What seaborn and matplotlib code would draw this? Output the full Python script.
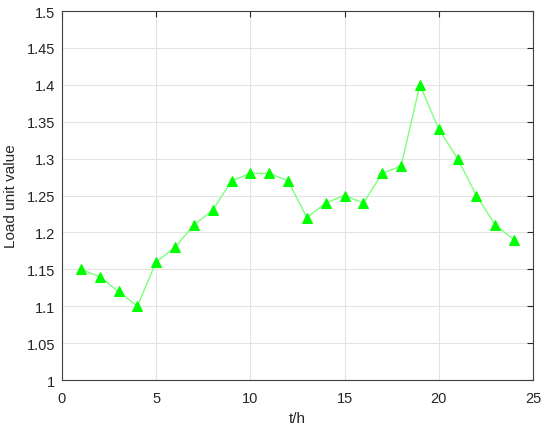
import numpy as np
import pandas as pd
import seaborn as sns
from matplotlib import pyplot as plt

# hourly load values
hours = list(range(1, 25))
load = [1.15, 1.14, 1.12, 1.10, 1.16, 1.18, 1.21, 1.23, 1.27, 1.28, 1.28, 1.27,
        1.22, 1.24, 1.25, 1.24, 1.28, 1.29, 1.40, 1.34, 1.30, 1.25, 1.21, 1.19]

x_ticks = [0, 5, 10, 15, 20, 25]
y_ticks = [1, 1.05, 1.1, 1.15, 1.2, 1.25, 1.3, 1.35, 1.4, 1.45, 1.5]
y_labels = ['1', '1.05', '1.1', '1.15', '1.2', '1.25', '1.3', '1.35', '1.4', '1.45', '1.5']

df = pd.DataFrame({'t': hours, 'load': load})

sns.set_style('white')
plt.rcParams['font.family'] = ['Liberation Sans', 'DejaVu Sans']

fig = plt.figure(figsize=(5.5, 4.31), dpi=100)
ax = fig.add_axes([0.1127, 0.116, 0.8563, 0.856])

sns.lineplot(data=df, x='t', y='load', ax=ax, color='#7dff7d', linewidth=1,
             marker='^', markersize=6.5, markerfacecolor='#00ff00',
             markeredgecolor='#00ff00')

ax.set_xlim(0, 25)
ax.set_ylim(1, 1.5)
ax.set_xticks(x_ticks)
ax.set_yticks(y_ticks)
ax.set_yticklabels(y_labels)
ax.grid(True, color='#e3e3e3', linewidth=0.8)
ax.set_axisbelow(True)
ax.tick_params(direction='in', top=True, right=True, length=4,
               labelsize=10.5, colors='#262626', width=0.8)
ax.tick_params(axis='x', pad=8)
ax.tick_params(axis='y', pad=5)
for s in ax.spines.values():
    s.set_color('#404040')
    s.set_linewidth(0.8)
ax.set_xlabel('t/h', fontsize=11, color='#262626', labelpad=4)
ax.set_ylabel('Load unit value', fontsize=11, color='#262626', labelpad=6)

fig.savefig('out.png', dpi=100)
